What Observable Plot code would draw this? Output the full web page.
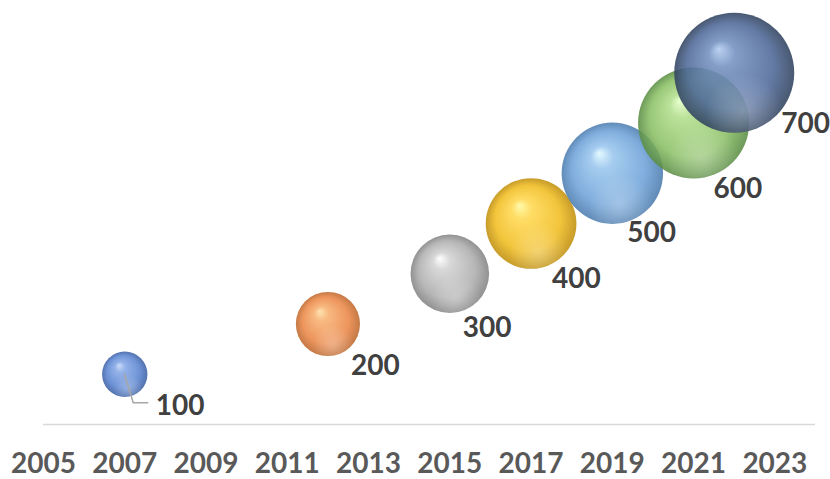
<!DOCTYPE html>
<html><head><meta charset="utf-8">
<script src="https://cdn.jsdelivr.net/npm/d3@7"></script>
<script src="https://cdn.jsdelivr.net/npm/@observablehq/plot@0.6"></script>
<style>html,body{margin:0;padding:0;background:#fff;}</style>
</head><body><div id="chart"></div>
<script>
// ---- data ----
const years  = [2007, 2012, 2015, 2017, 2019, 2021, 2022];
const values = [100, 200, 300, 400, 500, 600, 700];
const sizes  = [100, 200, 300, 400, 500, 600, 700];
const labels = ["100", "200", "300", "400", "500", "600", "700"];
const tickYears = [2005, 2007, 2009, 2011, 2013, 2015, 2017, 2019, 2021, 2023];

// ---- styles (not data) ----
const palette = [
  ["#c4d8f8", "#86a8e6", "#5a84d0", "#3c5fa4"],
  ["#ffe0a8", "#f7b070", "#ea8646", "#bd672c"],
  ["#ffffff", "#d2d2d2", "#adadad", "#828282"],
  ["#fff8a0", "#ffd850", "#f0bc20", "#bf8e0c"],
  ["#e0f8ff", "#9ac6ee", "#6ea2d8", "#4c7cae"],
  ["#e4ffc8", "#b2de8c", "#8abf64", "#5a8c44"],
  ["#b4ccf0", "#7290c0", "#4e6898", "#30425e"]
];
const labelOffsets = [[31, 21], [23, 31], [13, 43], [21, 45], [15, 49], [20, 55], [47, 40]];

const data = years.map((year, i) => ({year, value: values[i], size: sizes[i], label: labels[i], i}));

const marks = [
  Plot.ruleY([0], {stroke: "#d9d9d9", strokeWidth: 1.5}),
  Plot.axisX(tickYears, {tickSize: 0, tickPadding: 29, fontSize: 28, color: "#595959", label: null, tickFormat: d => String(d)})
];
data.forEach((d, i) => {
  marks.push(Plot.dot([d], {x: "year", y: "value", r: "size", fill: `url(#grad${i})`, fillOpacity: 0.88}));
  marks.push(Plot.dot([d], {x: "year", y: "value", r: "size", fill: "url(#shine)"}));
});
// leader line for first label
marks.push((index, scales) => {
  const px = scales.x(data[0].year), py = scales.y(data[0].value);
  const p = document.createElementNS("http://www.w3.org/2000/svg", "path");
  p.setAttribute("d", `M${px},${py} L${px + 9},${py + 29} L${px + 24},${py + 29}`);
  p.setAttribute("fill", "none");
  p.setAttribute("stroke", "#a6a6a6");
  p.setAttribute("stroke-width", "1.5");
  return p;
});
data.forEach((d, i) => {
  const [dx, dy] = labelOffsets[i];
  marks.push(Plot.text([d], {x: "year", y: "value", text: "label", dx, dy, textAnchor: "start", lineAnchor: "top", fontSize: 28, fill: "#404040"}));
});

const svg = Plot.plot({
  width: 830, height: 479,
  marginLeft: 43, marginRight: 15, marginTop: 22, marginBottom: 55,
  x: {domain: [2005, 2024], label: null},
  y: {domain: [0, 800], axis: null},
  r: {domain: [0, 700], range: [0, 60]},
  style: {fontFamily: "Lato, 'Open Sans', sans-serif", fontWeight: 700, background: "#fff"},
  marks
});

// gradients
const ns = "http://www.w3.org/2000/svg";
const defs = document.createElementNS(ns, "defs");
palette.forEach((c, i) => {
  const g = document.createElementNS(ns, "radialGradient");
  g.setAttribute("id", `grad${i}`);
  g.setAttribute("cx", "0.5"); g.setAttribute("cy", "0.5"); g.setAttribute("r", "0.5");
  g.setAttribute("fx", "0.37"); g.setAttribute("fy", "0.3");
  [[0, c[0]], [0.22, c[1]], [0.72, c[2]], [1, c[3]]].forEach(([o, col]) => {
    const s = document.createElementNS(ns, "stop");
    s.setAttribute("offset", o); s.setAttribute("stop-color", col);
    g.appendChild(s);
  });
  defs.appendChild(g);
});
const sh = document.createElementNS(ns, "radialGradient");
sh.setAttribute("id", "shine");
sh.setAttribute("cx", "0.58"); sh.setAttribute("cy", "0.82"); sh.setAttribute("r", "0.32");
[[0, "#ffffff", 0.28], [1, "#ffffff", 0]].forEach(([o, col, op]) => {
  const s = document.createElementNS(ns, "stop");
  s.setAttribute("offset", o); s.setAttribute("stop-color", col); s.setAttribute("stop-opacity", op);
  sh.appendChild(s);
});
defs.appendChild(sh);
svg.insertBefore(defs, svg.firstChild);

document.getElementById("chart").appendChild(svg);
</script>
</body></html>
